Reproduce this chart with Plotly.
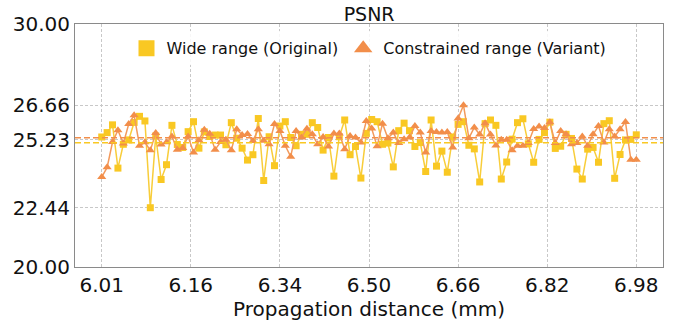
import numpy as np
import plotly.graph_objects as go

# PSNR per propagation-distance sample (100 samples from 6.01 mm to 6.98 mm)
psnr_wide = [
    25.35, 25.53, 25.85, 24.07, 25.05, 25.23, 25.95, 26.20, 26.01, 22.44,
    25.39, 23.60, 24.21, 25.83, 25.04, 24.92, 25.57, 25.98, 24.89, 25.56,
    25.37, 25.43, 25.43, 25.03, 25.94, 25.30, 24.89, 24.40, 24.62, 26.11,
    23.56, 25.36, 24.17, 25.80, 25.98, 25.33, 24.99, 25.46, 25.46, 25.94,
    25.74, 24.81, 25.33, 23.74, 25.36, 26.05, 24.62, 24.96, 23.66, 25.50,
    26.07, 25.98, 25.05, 25.10, 24.12, 25.61, 25.92, 25.61, 24.96, 25.12,
    23.93, 26.05, 24.15, 24.77, 23.90, 25.35, 25.87, 25.98, 25.01, 24.86,
    23.50, 25.90, 26.05, 25.83, 23.62, 24.32, 25.26, 25.94, 26.10, 25.07,
    24.31, 25.25, 25.53, 25.96, 24.88, 24.97, 25.46, 25.29, 24.03, 23.62,
    24.85, 24.92, 24.31, 25.90, 26.02, 23.65, 24.63, 25.23, 25.25, 25.44,
]
psnr_constrained = [
    23.70, 24.10, 25.14, 25.63, 25.08, 25.88, 26.25, 24.99, 25.13, 24.80,
    25.51, 25.04, 25.13, 25.37, 24.83, 24.90, 25.37, 24.71, 25.22, 25.65,
    25.48, 24.83, 25.14, 25.24, 24.80, 25.67, 25.43, 25.47, 25.19, 25.67,
    25.20, 25.05, 25.88, 25.60, 24.99, 24.54, 25.60, 25.33, 25.69, 25.46,
    25.05, 25.35, 24.96, 25.49, 25.49, 24.85, 25.39, 25.33, 25.12, 26.01,
    25.70, 24.97, 25.90, 25.30, 25.53, 25.10, 25.26, 25.33, 25.80, 25.53,
    24.71, 25.60, 25.56, 25.53, 25.56, 24.92, 26.11, 26.66, 25.30, 25.74,
    25.45, 25.92, 25.45, 25.00, 25.24, 25.24, 24.80, 24.99, 24.99, 25.10,
    25.68, 25.78, 25.72, 25.96, 25.10, 25.60, 25.46, 25.05, 25.10, 25.37,
    24.99, 25.46, 25.80, 25.12, 25.67, 25.37, 25.67, 25.97, 24.41, 24.41,
]
distance_labels = ["6.01", "6.16", "6.34", "6.50", "6.66", "6.82", "6.98"]
psnr_ticks = [20.00, 22.44, 25.23, 26.66, 30.00]

series_names = ["Wide range (Original)", "Constrained range (Variant)"]

YELLOW = "#F9C823"
YELLOW_LINE = "#F8CD3A"
ORANGE = "#F28E4A"
ORANGE_LINE = "#F39A5C"
FONT = "DejaVu Sans"

n = len(psnr_wide)
idx = np.arange(n)
tick_pos = np.linspace(0, n - 1, len(distance_labels))

fig = go.Figure()

fig.add_trace(go.Scatter(
    x=idx, y=psnr_wide, mode="lines+markers", showlegend=False,
    line=dict(color=YELLOW_LINE, width=1.5),
    marker=dict(symbol="square", size=7, color=YELLOW),
))
fig.add_trace(go.Scatter(
    x=idx, y=psnr_constrained, mode="lines+markers", showlegend=False,
    line=dict(color=ORANGE_LINE, width=1.5),
    marker=dict(symbol="triangle-up", size=8, color=ORANGE),
))

# mean levels of each series
fig.add_hline(y=float(np.mean(psnr_constrained)), line=dict(color=ORANGE, width=1.5, dash="6px,3px"))
fig.add_hline(y=float(np.mean(psnr_wide)), line=dict(color=YELLOW, width=1.5, dash="6px,3px"))

# legend entries with enlarged markers
fig.add_trace(go.Scatter(
    x=[None], y=[None], mode="markers", name=series_names[0],
    marker=dict(symbol="square", size=16, color=YELLOW),
))
fig.add_trace(go.Scatter(
    x=[None], y=[None], mode="markers", name=series_names[1],
    marker=dict(symbol="triangle-up", size=16, color=ORANGE),
))

axis_common = dict(
    showline=True, linecolor="#8a8a8a", linewidth=1, mirror=True,
    showgrid=True, gridcolor="#c8c8c8", gridwidth=1, griddash="3px,2px",
    zeroline=False, ticks="", tickfont=dict(family=FONT, size=20, color="#111"),
)

fig.update_layout(
    width=676, height=329,
    margin=dict(l=75, r=13, t=24, b=62),
    paper_bgcolor="white", plot_bgcolor="white",
    title=dict(text="PSNR", x=0.546, xanchor="center", y=0.955, yanchor="middle",
               font=dict(family=FONT, size=19, color="#111")),
    legend=dict(orientation="h", x=0.5, xanchor="center", y=0.9, yanchor="middle",
                bgcolor="rgba(255,255,255,0.85)", borderwidth=0,
                font=dict(family=FONT, size=16, color="#111"),
                itemsizing="trace", tracegroupgap=0),
    xaxis=dict(
        range=[-4.95, n - 1 + 4.95], tickvals=tick_pos, ticktext=distance_labels,
        title=dict(text="Propagation distance (mm)", standoff=4,
                   font=dict(family=FONT, size=20, color="#111")),
        **axis_common,
    ),
    yaxis=dict(
        range=[20, 30], tickvals=psnr_ticks, ticktext=[f"{v:.2f}" for v in psnr_ticks],
        **axis_common,
    ),
)

fig.write_html("out.html")
